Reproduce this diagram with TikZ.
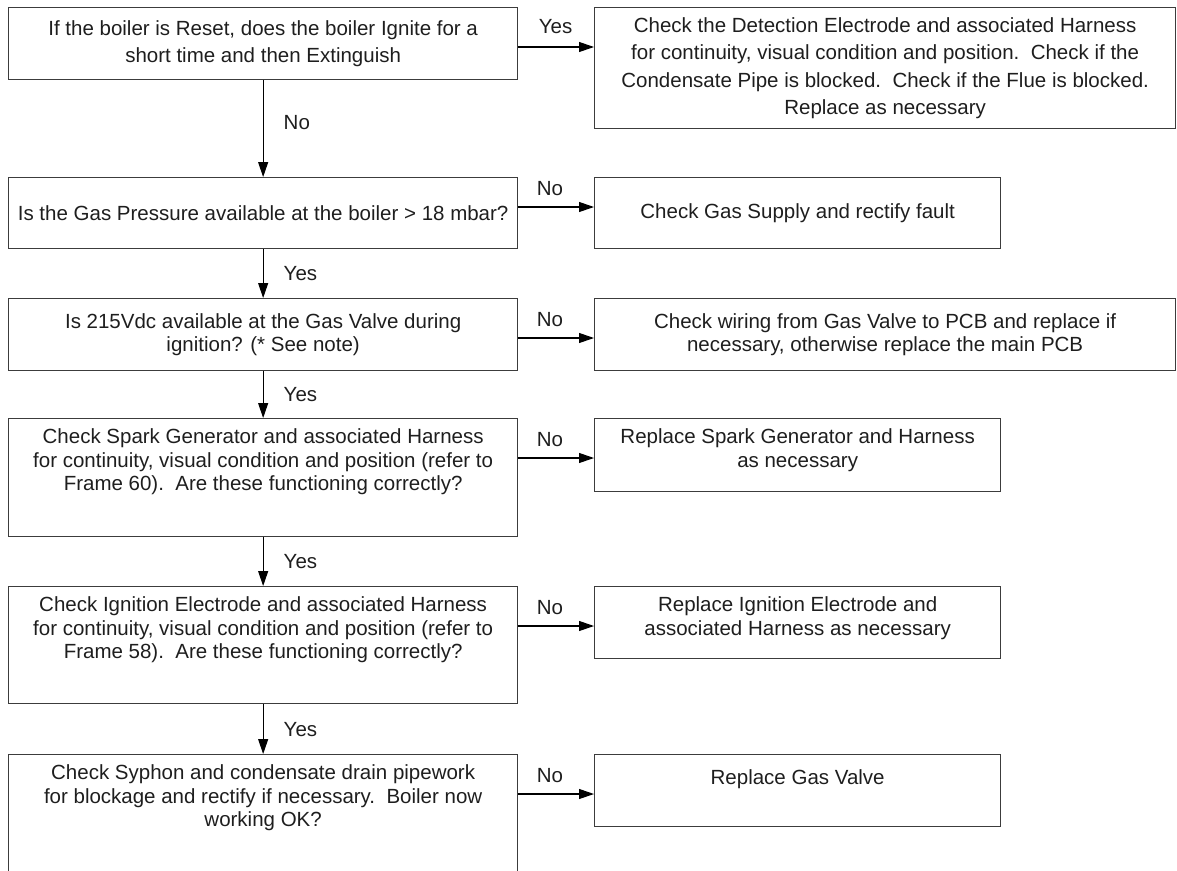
\documentclass[tikz,border=0pt]{standalone}
\usepackage{fontspec}
\setmainfont{Liberation Sans}
\usetikzlibrary{arrows.meta}
\definecolor{frame}{HTML}{3C3C3C}
\definecolor{ink}{HTML}{1E1E1E}

\begin{document}
\begin{tikzpicture}[
        x=1pt,y=-1pt,
        font=\fontsize{20.5}{23.5}\selectfont,
        text=ink,
        cell/.style n args={3}{draw=frame,line width=1.3pt,inner sep=0pt,anchor=north west,
          execute at begin node={\begin{minipage}[c][#2][#3]{#1}\centering\if t#3\vspace*{10pt}\fi},
          execute at end node={\end{minipage}}},
        wide/.style={font=\fontsize{20.5}{27.5}\selectfont},
        flow/.style={draw=black,line width=1.1pt,-{Triangle[length=15pt,width=10pt]}},
        tag/.style={inner sep=0pt}
      ]
      \useasboundingbox (0,0) rectangle (1177,870);
      % questions, left column
      \node[cell={509pt}{72pt}{c},wide] (reset) at (8,7)
        {If the boiler is Reset, does the boiler Ignite for a\\short time and then Extinguish};
      \node[cell={509pt}{71pt}{c}] (gas) at (8,177)
        {Is the Gas Pressure available at the boiler > 18 mbar?};
      \node[cell={509pt}{72pt}{c}] (volt) at (8,298)
        {Is 215Vdc available at the Gas Valve during\\ignition? (* See note)};
      \node[cell={509pt}{118pt}{t}] (spark) at (8,418)
        {Check Spark Generator and associated Harness\\for continuity, visual condition and position (refer to\\Frame 60).\ \ Are these functioning correctly?};
      \node[cell={509pt}{117pt}{t}] (ignit) at (8,586)
        {Check Ignition Electrode and associated Harness\\for continuity, visual condition and position (refer to\\Frame 58).\ \ Are these functioning correctly?};
      \node[cell={509pt}{130pt}{t}] (syphon) at (8,754)
        {Check Syphon and condensate drain pipework\\for blockage and rectify if necessary.\ \ Boiler now\\working OK?};
      % actions, right column
      \node[cell={581pt}{121pt}{c},wide] (detect) at (594,7)
        {Check the Detection Electrode and associated Harness\\for continuity, visual condition and position.\ \ Check if the\\Condensate Pipe is blocked.\ \ Check if the Flue is blocked.\\Replace as necessary};
      \node[cell={406pt}{71pt}{c}] (supply) at (594,177)
        {Check Gas Supply and rectify fault};
      \node[cell={581pt}{72pt}{c}] (wiring) at (594,298)
        {Check wiring from Gas Valve to PCB and replace if\\necessary, otherwise replace the main PCB};
      \node[cell={406pt}{73pt}{t}] (gen) at (594,418)
        {Replace Spark Generator and Harness\\as necessary};
      \node[cell={406pt}{72pt}{t}] (elec) at (594,586)
        {Replace Ignition Electrode and\\associated Harness as necessary};
      \node[cell={406pt}{72pt}{t}] (valve) at (594,754)
        {\vspace*{5pt}Replace Gas Valve};

      % side exits
      \coordinate (o1) at ([yshift=-40pt]reset.north east);
      \coordinate (o2) at ([yshift=-30pt]gas.north east);
      \coordinate (o3) at ([yshift=-40pt]volt.north east);
      \coordinate (o4) at ([yshift=-40pt]spark.north east);
      \coordinate (o5) at ([yshift=-40pt]ignit.north east);
      \coordinate (o6) at ([yshift=-40pt]syphon.north east);
      \draw[flow] (o1) -- (o1 -| detect.west) node[tag,pos=0,anchor=base west,xshift=20pt,yshift=14pt] {Yes};
      \draw[flow] (o2) -- (o2 -| supply.west) node[tag,pos=0,anchor=base west,xshift=18pt,yshift=12pt] {No};
      \draw[flow] (o3) -- (o3 -| wiring.west) node[tag,pos=0,anchor=base west,xshift=18pt,yshift=12pt] {No};
      \draw[flow] (o4) -- (o4 -| gen.west) node[tag,pos=0,anchor=base west,xshift=18pt,yshift=12pt] {No};
      \draw[flow] (o5) -- (o5 -| elec.west) node[tag,pos=0,anchor=base west,xshift=18pt,yshift=12pt] {No};
      \draw[flow] (o6) -- (o6 -| valve.west) node[tag,pos=0,anchor=base west,xshift=18pt,yshift=12pt] {No};

      % main line down
      \draw[flow] (reset) -- (gas) node[tag,midway,anchor=west,xshift=20pt,yshift=6pt] {No};
      \draw[flow] (gas) -- (volt) node[tag,midway,anchor=west,xshift=20pt] {Yes};
      \draw[flow] (volt) -- (spark) node[tag,midway,anchor=west,xshift=20pt] {Yes};
      \draw[flow] (spark) -- (ignit) node[tag,midway,anchor=west,xshift=20pt] {Yes};
      \draw[flow] (ignit) -- (syphon) node[tag,midway,anchor=west,xshift=20pt] {Yes};
    \end{tikzpicture}
\end{document}
